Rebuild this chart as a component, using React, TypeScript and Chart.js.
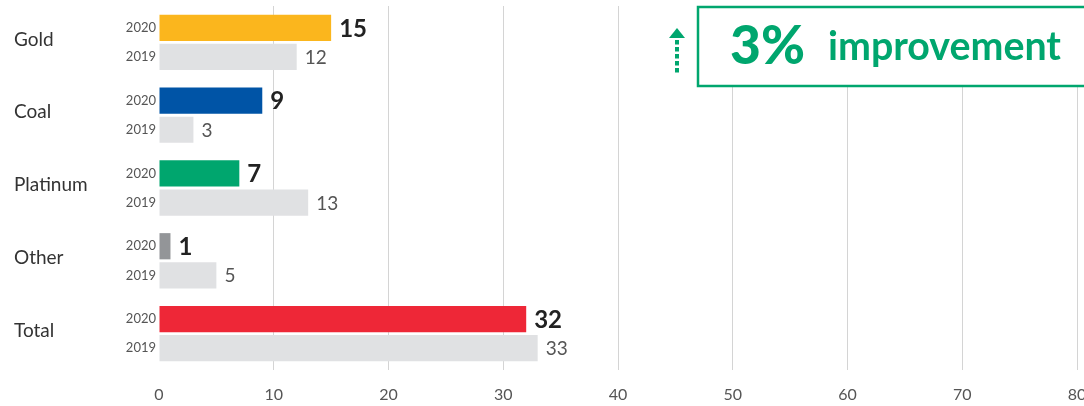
import React, { useEffect, useRef } from "react";
import { Chart, registerables } from "chart.js";

Chart.register(...registerables);

const categories = ["Gold", "Coal", "Platinum", "Other", "Total"];
const yearLabels = ["2020", "2019"];
const values2020 = [15, 9, 7, 1, 32];
const values2019 = [12, 3, 13, 5, 33];
const colors2020 = ["#fbb61d", "#0054a6", "#00a66e", "#939598", "#ee2737"];
const color2019 = "#e0e1e3";
const xTicks = [0, 10, 20, 30, 40, 50, 60, 70, 80];
const calloutBig = "3%";
const calloutText = "improvement";

const FONT = "Lato, 'Noto Sans', sans-serif";
const GREEN = "#00a66e";

const overlayPlugin = {
  id: "overlay",
  afterDatasetsDraw(chart: any) {
    const ctx = chart.ctx;
    const yScale = chart.scales.y;
    ctx.save();
    // category labels
    ctx.fillStyle = "#333";
    ctx.font = `19px ${FONT}`;
    ctx.textAlign = "left";
    ctx.textBaseline = "middle";
    categories.forEach((c, i) => {
      const y = yScale.getPixelForValue(i);
      ctx.fillText(c, 14, y - 3);
    });
    // year labels + value labels
    chart.data.datasets.forEach((ds: any, di: number) => {
      const meta = chart.getDatasetMeta(di);
      meta.data.forEach((bar: any, i: number) => {
        const y = bar.y;
        ctx.textBaseline = "middle";
        ctx.textAlign = "right";
        ctx.fillStyle = "#555";
        ctx.font = `13px ${FONT}`;
        ctx.fillText(yearLabels[di], 156, y);
        ctx.textAlign = "left";
        if (di === 0) {
          ctx.fillStyle = "#222";
          ctx.font = `bold 24px ${FONT}`;
        } else {
          ctx.fillStyle = "#555";
          ctx.font = `19px ${FONT}`;
        }
        ctx.fillText(String(ds.data[i]), bar.x + 8, y + 1);
      });
    });
    // callout box
    const bx = 698, by = 7, bw = 400, bh = 79;
    ctx.fillStyle = "#fff";
    ctx.fillRect(bx, by, bw, bh);
    ctx.strokeStyle = GREEN;
    ctx.lineWidth = 2.5;
    ctx.strokeRect(bx, by, bw, bh);
    ctx.fillStyle = GREEN;
    ctx.textAlign = "left";
    ctx.textBaseline = "alphabetic";
    ctx.font = `900 50px ${FONT}`;
    let w = ctx.measureText(calloutBig).width;
    let fs = 50 * 75 / w;
    ctx.font = `900 ${fs}px ${FONT}`;
    ctx.fillText(calloutBig, 730, 64);
    ctx.font = `bold 32px ${FONT}`;
    w = ctx.measureText(calloutText).width;
    fs = 32 * 233 / w;
    ctx.font = `bold ${fs}px ${FONT}`;
    ctx.fillText(calloutText, 828, 60);
    // arrow
    ctx.fillStyle = GREEN;
    ctx.beginPath();
    ctx.moveTo(677, 28);
    ctx.lineTo(685, 38);
    ctx.lineTo(669, 38);
    ctx.closePath();
    ctx.fill();
    for (let y = 40; y < 70; y += 7) {
      ctx.fillRect(675, y, 4, 4.5);
    }
    ctx.restore();
  },
};

export default function App() {
  const ref = useRef<HTMLCanvasElement>(null);
  useEffect(() => {
    if (!ref.current) return;
    const chart = new Chart(ref.current, {
      type: "bar",
      data: {
        labels: categories,
        datasets: [
          {
            label: "2020",
            data: values2020,
            backgroundColor: colors2020,
            borderWidth: 0,
            categoryPercentage: 0.8,
            barPercentage: 0.9,
          },
          {
            label: "2019",
            data: values2019,
            backgroundColor: color2019,
            borderWidth: 0,
            categoryPercentage: 0.8,
            barPercentage: 0.9,
          },
        ],
      },
      options: {
        indexAxis: "y",
        animation: false,
        responsive: false,
        maintainAspectRatio: false,
        layout: { padding: { left: 159, right: 13, top: 6, bottom: 0 } },
        plugins: {
          legend: { display: false },
          tooltip: { enabled: false },
        },
        scales: {
          x: {
            min: 0,
            max: 80,
            afterBuildTicks: (scale: any) => {
              scale.ticks = xTicks.map((v) => ({ value: v }));
            },
            afterFit: (scale: any) => {
              scale.height = 36;
              scale.paddingLeft = 0;
              scale.paddingRight = 0;
            },
            border: { display: false },
            grid: {
              color: (c: any) => (c.tick && c.tick.value === 0 ? "rgba(0,0,0,0)" : "#d4d4d4"),
              lineWidth: 1,
              drawTicks: false,
            },
            ticks: {
              color: "#555",
              font: { family: FONT, size: 16 },
              padding: 15,
            },
          },
          y: {
            display: false,
          },
        },
      },
      plugins: [overlayPlugin],
    });
    return () => chart.destroy();
  }, []);
  return (
    <div style={{ position: "fixed", left: 0, top: 0, width: 1084, height: 406, overflow: "hidden", background: "#fff" }}>
      <canvas ref={ref} width={1090} height={406} style={{ width: 1090, height: 406, display: "block" }} />
    </div>
  );
}
